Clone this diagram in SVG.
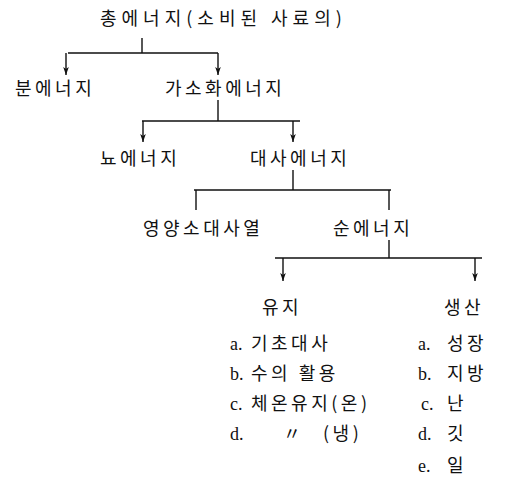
<svg xmlns="http://www.w3.org/2000/svg" width="510" height="493" viewBox="0 0 510 493">
<defs>
<marker id="arr" viewBox="0 0 10 10" refX="10" refY="5" markerWidth="8" markerHeight="8" orient="auto" markerUnits="userSpaceOnUse">
<path d="M0,1.5 L10,5 L0,8.5 L2.5,5 z" fill="#111"/>
</marker>
<style>
.t{font-family:"Noto Sans CJK KR","Liberation Serif",sans-serif;font-size:18px;fill:#111;letter-spacing:3.5px}
.l{font-family:"Liberation Serif","Noto Sans CJK KR",serif;font-size:18px;fill:#111}
.k{font-family:"Noto Sans CJK KR",sans-serif;letter-spacing:3.5px}
.c{stroke:#111;stroke-width:1.4;fill:none}
.a{stroke:#111;stroke-width:1.4;fill:none;marker-end:url(#arr)}
</style>
</defs>
<rect width="510" height="493" fill="#fff"/>
<g id="connectors">
<path class="c" d="M142,38 V53 M68,53 H218"/>
<path class="a" d="M66,53 V75"/>
<path class="a" d="M218,53 V75"/>
<path class="c" d="M218,100 V121 M142,121 H300"/>
<path class="a" d="M143,121 V142"/>
<path class="a" d="M293,121 V142"/>
<path class="c" d="M293,170 V190 M194,190 H391 M196,190 V210 M389,190 V210"/>
<path class="c" d="M389,240 V258 M275,258 H482"/>
<path class="a" d="M283,258 V281"/>
<path class="a" d="M475,258 V281"/>
</g>
<g id="n-total"><text class="t" x="100" y="25" style="letter-spacing:5px">총에너지(소비된 사료의)</text></g>
<g id="n-fecal"><text class="t" x="15" y="95">분에너지</text></g>
<g id="n-digestible"><text class="t" x="165" y="95">가소화에너지</text></g>
<g id="n-urine"><text class="t" x="100" y="165">뇨에너지</text></g>
<g id="n-metabolizable"><text class="t" x="250" y="165">대사에너지</text></g>
<g id="n-heat"><text class="t" x="143" y="235">영양소대사열</text></g>
<g id="n-net"><text class="t" x="333" y="235">순에너지</text></g>
<g id="n-maintenance">
<text class="t" x="262" y="314">유지</text>
<text class="l" x="230" y="350">a. <tspan class="k" x="251">기초대사</tspan></text>
<text class="l" x="230" y="380">b. <tspan class="k" x="251">수의 활용</tspan></text>
<text class="l" x="230" y="410">c. <tspan class="k" x="251">체온유지(온)</tspan></text>
<text class="l" x="230" y="440">d.</text>
<text class="l" x="283" y="440">〃</text>
<text class="l" x="323" y="440"><tspan class="k">(냉)</tspan></text>
</g>
<g id="n-production">
<text class="t" x="444" y="314">생산</text>
<text class="l" x="418" y="350">a. <tspan class="k" x="447">성장</tspan></text>
<text class="l" x="418" y="380">b. <tspan class="k" x="447">지방</tspan></text>
<text class="l" x="421" y="410">c. <tspan class="k" x="447">난</tspan></text>
<text class="l" x="418" y="440">d. <tspan class="k" x="447">깃</tspan></text>
<text class="l" x="418" y="472">e. <tspan class="k" x="447">일</tspan></text>
</g>
</svg>
